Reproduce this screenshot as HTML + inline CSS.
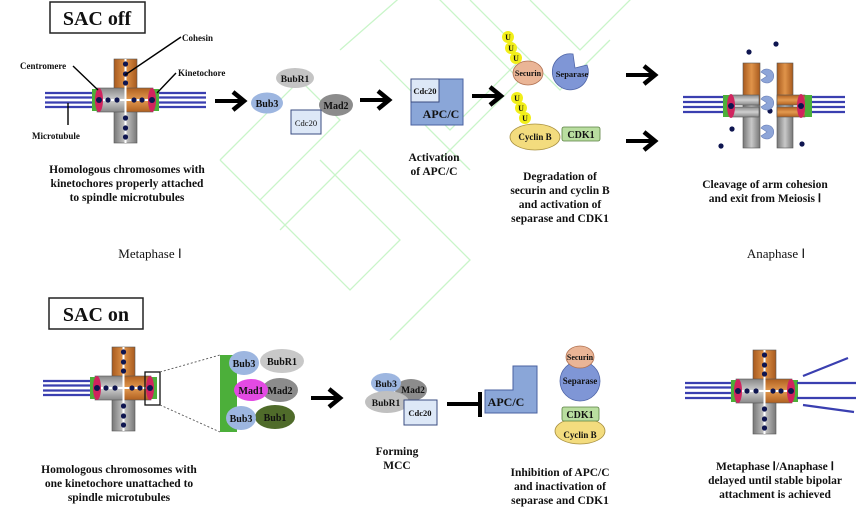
<!DOCTYPE html>
<html><head><meta charset="utf-8"><style>
html,body{margin:0;padding:0;background:#fff;}
svg{display:block;}
text{font-family:"Liberation Serif",serif;font-weight:bold;fill:#111;}
.n{font-weight:normal;}
</style></head><body>
<svg width="865" height="518" viewBox="0 0 865 518" xmlns="http://www.w3.org/2000/svg">
<defs>
<linearGradient id="or" x1="0" x2="1"><stop offset="0" stop-color="#a85a1e"/><stop offset="0.5" stop-color="#e0944a"/><stop offset="1" stop-color="#a85a1e"/></linearGradient>
<linearGradient id="gr" x1="0" x2="1"><stop offset="0" stop-color="#777"/><stop offset="0.5" stop-color="#c8c8c8"/><stop offset="1" stop-color="#777"/></linearGradient>
<linearGradient id="grh" x1="0" y1="0" x2="0" y2="1"><stop offset="0" stop-color="#888"/><stop offset="0.5" stop-color="#d0d0d0"/><stop offset="1" stop-color="#888"/></linearGradient>
<linearGradient id="orh" x1="0" y1="0" x2="0" y2="1"><stop offset="0" stop-color="#b06020"/><stop offset="0.5" stop-color="#e39a50"/><stop offset="1" stop-color="#b06020"/></linearGradient>
<g id="chr">
<rect x="114" y="59" width="23" height="41" fill="url(#or)" stroke="#555" stroke-width="0.6"/>
<rect x="114" y="100" width="23" height="43" fill="url(#gr)" stroke="#555" stroke-width="0.6"/>
<rect x="97" y="88" width="29" height="24" fill="url(#grh)" stroke="#555" stroke-width="0.6"/>
<rect x="125" y="88" width="28" height="24" fill="url(#orh)" stroke="#555" stroke-width="0.6"/>
<line x1="125.5" y1="59" x2="125.5" y2="143" stroke="#fff" stroke-width="2"/>
<line x1="97" y1="100" x2="153" y2="100" stroke="#fff" stroke-width="2"/>
<g fill="#0e1550">
<circle cx="125.5" cy="64" r="2.6"/><circle cx="125.5" cy="74" r="2.6"/><circle cx="125.5" cy="83" r="2.6"/>
<circle cx="125.5" cy="118" r="2.6"/><circle cx="125.5" cy="128" r="2.6"/><circle cx="125.5" cy="137" r="2.6"/>
<circle cx="108" cy="100" r="2.6"/><circle cx="117" cy="100" r="2.6"/><circle cx="134" cy="100" r="2.6"/><circle cx="142" cy="100" r="2.6"/>
</g>
<rect x="92" y="89" width="7" height="22" fill="#4caf3a"/>
<rect x="152" y="89" width="7" height="22" fill="#4caf3a"/>
<ellipse cx="99" cy="100" rx="4" ry="12" fill="#d0245e"/>
<ellipse cx="152" cy="100" rx="4" ry="12" fill="#d0245e"/>
<circle cx="99" cy="100" r="3" fill="#0e1550"/><circle cx="152" cy="100" r="3" fill="#0e1550"/>
</g>
<g id="mtl" stroke="#3a3fb0" stroke-width="2.2"><line x1="45" y1="93" x2="93" y2="93"/><line x1="45" y1="97.5" x2="93" y2="97.5"/><line x1="45" y1="102.5" x2="93" y2="102.5"/><line x1="45" y1="107" x2="93" y2="107"/></g>
<g id="arr" stroke="#000" stroke-width="4" fill="none"><line x1="0" y1="0" x2="28" y2="0"/><polyline points="18,-9 29,0 18,9" stroke-width="4.5"/></g>
<path id="pac" d="M0,0 L6,-4 A7,7 0 1 0 6,4 Z" fill="#8ea5d8" stroke="#6a80b8" stroke-width="0.6"/>
</defs>

<!-- faint background pattern -->
<g fill="none" stroke="#c9f5c9" stroke-width="1.3">
<polyline points="220,160 300,80 340,120 260,200 220,160"/>
<polyline points="260,200 350,290 400,240 320,160"/>
<polyline points="280,230 360,150 470,260 390,340"/>
<polyline points="340,50 420,-20 520,80 440,160"/>
<polyline points="380,60 450,130 520,60"/>
<polyline points="470,0 560,90 610,40"/>
<polyline points="530,0 580,50 640,-10"/>
<polyline points="420,120 470,170"/>
</g>

<!-- SAC off -->
<rect x="50" y="2" width="95" height="31" fill="#fff" stroke="#222" stroke-width="1.5"/>
<text x="97" y="25" font-size="20" text-anchor="middle">SAC off</text>

<use href="#mtl"/>
<g stroke="#3a3fb0" stroke-width="2.2"><line x1="158" y1="93" x2="206" y2="93"/><line x1="158" y1="97.5" x2="206" y2="97.5"/><line x1="158" y1="102.5" x2="206" y2="102.5"/><line x1="158" y1="107" x2="206" y2="107"/></g>
<use href="#chr"/>
<g stroke="#000" stroke-width="1.4">
<line x1="181" y1="37" x2="125" y2="75"/>
<line x1="73" y1="66" x2="98" y2="90"/>
<line x1="176" y1="73" x2="157" y2="93"/>
<line x1="68" y1="103" x2="68" y2="125"/>
</g>
<text x="182" y="41" font-size="9">Cohesin</text>
<text x="20" y="69" font-size="9">Centromere</text>
<text x="178" y="76" font-size="9">Kinetochore</text>
<text x="32" y="139" font-size="9">Microtubule</text>
<g font-size="11.5" text-anchor="middle">
<text x="127" y="173">Homologous chromosomes with</text>
<text x="127" y="187">kinetochores properly attached</text>
<text x="127" y="201">to spindle microtubules</text>
</g>

<use href="#arr" x="215" y="101"/>
<ellipse cx="295" cy="78" rx="19" ry="10" fill="#c4c4c4"/><text x="295" y="82" font-size="9.5" text-anchor="middle">BubR1</text>
<ellipse cx="267" cy="103" rx="16" ry="10.5" fill="#9db6e0"/><text x="267" y="107" font-size="10" text-anchor="middle">Bub3</text>
<ellipse cx="336" cy="105" rx="17" ry="11" fill="#8c8c8c"/><text x="336" y="109" font-size="10" text-anchor="middle">Mad2</text>
<rect x="291" y="110" width="30" height="24" fill="#dde8f7" stroke="#3a4c80" stroke-width="1"/><text x="306" y="126" font-size="8.5" text-anchor="middle" class="n">Cdc20</text>

<use href="#arr" x="360" y="100"/>
<rect x="411" y="79" width="52" height="46" fill="#8aa6d8" stroke="#4a62a0" stroke-width="1"/>
<rect x="411" y="79" width="28" height="23" fill="#dde8f7" stroke="#3a4c80" stroke-width="1"/>
<text x="425" y="94" font-size="8.5" text-anchor="middle">Cdc20</text>
<text x="441" y="118" font-size="12" text-anchor="middle">APC/C</text>
<text x="434" y="161" font-size="11.5" text-anchor="middle">Activation</text>
<text x="434" y="175" font-size="11.5" text-anchor="middle">of APC/C</text>

<use href="#arr" x="472" y="96"/>
<g fill="#f2ef1a">
<circle cx="508" cy="37" r="6"/><circle cx="511" cy="48" r="6"/><circle cx="516" cy="58" r="6"/>
<circle cx="517" cy="98" r="6"/><circle cx="521" cy="108" r="6"/><circle cx="525" cy="118" r="6"/>
</g>
<g font-size="8" text-anchor="middle">
<text x="508" y="40">U</text><text x="511" y="51">U</text><text x="516" y="61">U</text>
<text x="517" y="101">U</text><text x="521" y="111">U</text><text x="525" y="121">U</text>
</g>
<ellipse cx="528" cy="73" rx="15" ry="12" fill="#eab596" stroke="#b07050" stroke-width="0.8"/><text x="528" y="76" font-size="8" text-anchor="middle">Securin</text>
<path d="M587,65 A18,18 0 1 1 573,54 L575,68 Z" fill="#7f96d6" stroke="#5066a8" stroke-width="0.8"/>
<text x="572" y="77" font-size="8.5" text-anchor="middle">Separase</text>
<ellipse cx="535" cy="137" rx="25" ry="13" fill="#f3dc7e" stroke="#a89040" stroke-width="0.8"/><text x="535" y="140" font-size="9" text-anchor="middle">Cyclin B</text>
<rect x="562" y="127" width="38" height="14" rx="2" fill="#b9dea0" stroke="#5a8040" stroke-width="0.8"/><text x="581" y="138" font-size="10" text-anchor="middle">CDK1</text>
<g font-size="11.5" text-anchor="middle">
<text x="560" y="180">Degradation of</text>
<text x="560" y="194">securin and cyclin B</text>
<text x="560" y="208">and activation of</text>
<text x="560" y="222">separase and CDK1</text>
</g>

<use href="#arr" x="626" y="75"/>
<use href="#arr" x="626" y="141"/>

<!-- anaphase chromosomes -->
<g stroke="#3a3fb0" stroke-width="2.2">
<line x1="683" y1="97" x2="724" y2="97"/><line x1="683" y1="102" x2="724" y2="102"/><line x1="683" y1="107" x2="724" y2="107"/><line x1="683" y1="112" x2="724" y2="112"/>
<line x1="811" y1="97" x2="845" y2="97"/><line x1="811" y1="102" x2="845" y2="102"/><line x1="811" y1="107" x2="845" y2="107"/><line x1="811" y1="112" x2="845" y2="112"/>
</g>
<rect x="743" y="63" width="17" height="42" fill="url(#or)" stroke="#555" stroke-width="0.6"/>
<rect x="743" y="105" width="17" height="43" fill="url(#gr)" stroke="#555" stroke-width="0.6"/>
<rect x="730" y="95" width="29" height="10" fill="url(#grh)" stroke="#555" stroke-width="0.6"/>
<rect x="730" y="107" width="29" height="10" fill="url(#grh)" stroke="#555" stroke-width="0.6"/>
<rect x="777" y="63" width="16" height="42" fill="url(#or)" stroke="#555" stroke-width="0.6"/>
<rect x="777" y="105" width="16" height="43" fill="url(#gr)" stroke="#555" stroke-width="0.6"/>
<rect x="777" y="95" width="28" height="10" fill="url(#orh)" stroke="#555" stroke-width="0.6"/>
<rect x="777" y="107" width="28" height="10" fill="url(#orh)" stroke="#555" stroke-width="0.6"/>
<rect x="723" y="95" width="7" height="22" fill="#4caf3a"/><rect x="805" y="95" width="7" height="22" fill="#4caf3a"/>
<ellipse cx="731" cy="106" rx="4" ry="12" fill="#d0245e"/><ellipse cx="801" cy="106" rx="4" ry="12" fill="#d0245e"/>
<g fill="#0e1550">
<circle cx="731" cy="106" r="3"/><circle cx="801" cy="106" r="3"/>
<circle cx="749" cy="52" r="2.6"/><circle cx="776" cy="44" r="2.6"/><circle cx="732" cy="129" r="2.6"/><circle cx="721" cy="146" r="2.6"/><circle cx="770" cy="111" r="2.6"/><circle cx="802" cy="144" r="2.6"/>
</g>
<use href="#pac" x="766" y="76" transform="translate(1533,0) scale(-1,1)"/>
<use href="#pac" x="766" y="103" transform="translate(1533,0) scale(-1,1)"/>
<use href="#pac" x="766" y="132" transform="translate(1533,0) scale(-1,1)"/>
<text x="765" y="188" font-size="11.5" text-anchor="middle">Cleavage of arm cohesion</text>
<text x="765" y="202" font-size="11.5" text-anchor="middle">and exit from Meiosis Ⅰ</text>

<text x="150" y="258" font-size="13" class="n" text-anchor="middle" font-family="Liberation Serif">Metaphase Ⅰ</text>
<text x="776" y="258" font-size="13" class="n" text-anchor="middle">Anaphase Ⅰ</text>

<!-- SAC on -->
<rect x="49" y="298" width="94" height="31" fill="#fff" stroke="#222" stroke-width="1.5"/>
<text x="96" y="321" font-size="20" text-anchor="middle">SAC on</text>
<g transform="translate(-2,288)"><use href="#mtl"/><use href="#chr"/></g>
<rect x="145" y="372" width="15" height="33" fill="none" stroke="#111" stroke-width="1.3"/>
<g stroke="#555" stroke-width="0.9" stroke-dasharray="2,2"><line x1="160" y1="372" x2="220" y2="355"/><line x1="160" y1="405" x2="220" y2="432"/></g>
<rect x="220" y="355" width="17" height="77" fill="#4caf3a"/>
<ellipse cx="282" cy="361" rx="22" ry="12" fill="#c8c8c8"/><text x="282" y="365" font-size="10" text-anchor="middle">BubR1</text>
<ellipse cx="244" cy="363" rx="15" ry="12" fill="#9db6e0"/><text x="244" y="367" font-size="10" text-anchor="middle">Bub3</text>
<ellipse cx="280" cy="390" rx="18" ry="12" fill="#8c8c8c"/><text x="280" y="394" font-size="10" text-anchor="middle">Mad2</text>
<ellipse cx="251" cy="390" rx="17" ry="11" fill="#e34ae3"/><text x="251" y="394" font-size="10" text-anchor="middle">Mad1</text>
<ellipse cx="275" cy="417" rx="20" ry="12" fill="#4f6b2a"/><text x="275" y="421" font-size="10" text-anchor="middle">Bub1</text>
<ellipse cx="241" cy="418" rx="15" ry="12" fill="#9db6e0"/><text x="241" y="422" font-size="10" text-anchor="middle">Bub3</text>
<g font-size="11.5" text-anchor="middle">
<text x="119" y="473">Homologous chromosomes with</text>
<text x="119" y="487">one kinetochore unattached to</text>
<text x="119" y="501">spindle microtubules</text>
</g>

<use href="#arr" x="311" y="398"/>
<ellipse cx="411" cy="390" rx="16" ry="11" fill="#8c8c8c"/><text x="413" y="393" font-size="9.5" text-anchor="middle">Mad2</text>
<ellipse cx="386" cy="383" rx="15" ry="10" fill="#9db6e0"/><text x="386" y="387" font-size="9.5" text-anchor="middle">Bub3</text>
<ellipse cx="387" cy="402" rx="22" ry="11" fill="#c0c0c0"/><text x="386" y="406" font-size="9.5" text-anchor="middle">BubR1</text>
<rect x="404" y="400" width="33" height="25" fill="#dde8f7" stroke="#3a4c80" stroke-width="1"/><text x="420" y="416" font-size="8.5" text-anchor="middle">Cdc20</text>
<text x="397" y="455" font-size="11.5" text-anchor="middle">Forming</text>
<text x="397" y="469" font-size="11.5" text-anchor="middle">MCC</text>

<line x1="447" y1="404" x2="479" y2="404" stroke="#000" stroke-width="4"/>
<line x1="480" y1="392" x2="480" y2="417" stroke="#000" stroke-width="4"/>
<path d="M485,390 L513,390 L513,366 L537,366 L537,413 L485,413 Z" fill="#8aa6d8" stroke="#4a62a0" stroke-width="1"/>
<text x="506" y="406" font-size="12" text-anchor="middle">APC/C</text>
<circle cx="580" cy="381" r="20" fill="#7f96d6" stroke="#5066a8" stroke-width="0.8"/>
<ellipse cx="580" cy="357" rx="14" ry="11" fill="#eab596" stroke="#b07050" stroke-width="0.8"/>
<text x="580" y="360" font-size="8" text-anchor="middle">Securin</text>
<text x="580" y="384" font-size="9" text-anchor="middle">Separase</text>
<ellipse cx="580" cy="431" rx="25" ry="13" fill="#f3dc7e" stroke="#a89040" stroke-width="0.8"/>
<rect x="562" y="407" width="37" height="14" rx="2" fill="#b9dea0" stroke="#5a8040" stroke-width="0.8"/>
<text x="580" y="418" font-size="10" text-anchor="middle">CDK1</text>
<text x="580" y="438" font-size="9" text-anchor="middle">Cyclin B</text>
<g font-size="11.5" text-anchor="middle">
<text x="560" y="476">Inhibition of APC/C</text>
<text x="560" y="490">and inactivation of</text>
<text x="560" y="504">separase and CDK1</text>
</g>

<!-- bottom right chromosome -->
<g transform="translate(639,291)">
<g stroke="#3a3fb0" stroke-width="2.2"><line x1="46" y1="92" x2="93" y2="92"/><line x1="46" y1="96.5" x2="93" y2="96.5"/><line x1="46" y1="102" x2="93" y2="102"/><line x1="46" y1="107" x2="93" y2="107"/></g>
<use href="#chr"/>
</g>
<g stroke="#3a3fb0" stroke-width="2.2">
<line x1="797" y1="383" x2="856" y2="383"/><line x1="797" y1="398" x2="856" y2="398"/>
<line x1="803" y1="376" x2="848" y2="358"/><line x1="803" y1="405" x2="854" y2="412"/>
</g>
<g font-size="11.5" text-anchor="middle">
<text x="775" y="470">Metaphase Ⅰ/Anaphase Ⅰ</text>
<text x="775" y="484">delayed until stable bipolar</text>
<text x="775" y="498">attachment is achieved</text>
</g>
</svg>
</body></html>
